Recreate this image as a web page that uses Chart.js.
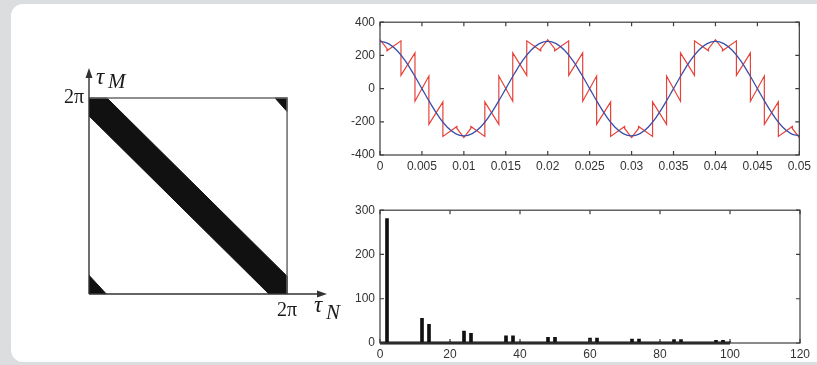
<!DOCTYPE html>
<html>
<head>
<meta charset="utf-8">
<script src="https://cdn.jsdelivr.net/npm/chart.js@4.4.1/dist/chart.umd.min.js"></script>
<style>
  html, body { margin: 0; padding: 0; }
  body { width: 817px; height: 365px; overflow: hidden; background: #dcdddf; position: relative; }
  #panel { position: absolute; left: 11px; top: 4px; width: 830px; height: 358px; background: #fff; border-radius: 12px; }
  canvas { position: absolute; }
  #mapChart { left: 40px; top: 40px; }
  #waveChart { left: 330px; top: 10px; }
  #specChart { left: 330px; top: 198px; }
</style>
</head>
<body>
<div id="panel"></div>
<canvas id="mapChart" width="320" height="290"></canvas>
<canvas id="waveChart" width="485" height="165"></canvas>
<canvas id="specChart" width="485" height="165"></canvas>
<script>
// ---- left: (tau_N, tau_M) map ----
const TWO_PI = 6.2832;
const bandX = [0, 0.57, TWO_PI, TWO_PI, 5.71, 0, 0];
const bandY = [TWO_PI, TWO_PI, 0.57, 0, 0, 5.71, TWO_PI];
const cornerLowX = [0, 0.55, 0, 0];
const cornerLowY = [0, 0, 0.6, 0];
const cornerHighX = [TWO_PI, 5.9, TWO_PI, TWO_PI];
const cornerHighY = [TWO_PI, TWO_PI, 5.85, TWO_PI];
const boxX = [0, TWO_PI, TWO_PI];
const boxY = [TWO_PI, TWO_PI, 0];
const mapTicks = [TWO_PI];

// ---- top right: waveforms ----
const blueT = [0, 0.001, 0.002, 0.003, 0.004, 0.005, 0.006, 0.007, 0.008, 0.009,
  0.010, 0.011, 0.012, 0.013, 0.014, 0.015, 0.016, 0.017, 0.018, 0.019,
  0.020, 0.021, 0.022, 0.023, 0.024, 0.025, 0.026, 0.027, 0.028, 0.029,
  0.030, 0.031, 0.032, 0.033, 0.034, 0.035, 0.036, 0.037, 0.038, 0.039,
  0.040, 0.041, 0.042, 0.043, 0.044, 0.045, 0.046, 0.047, 0.048, 0.049, 0.050];
const blueV = [285, 271, 231, 168, 88, 0, -88, -168, -231, -271,
  -285, -271, -231, -168, -88, 0, 88, 168, 231, 271,
  285, 271, 231, 168, 88, 0, -88, -168, -231, -271,
  -285, -271, -231, -168, -88, 0, 88, 168, 231, 271,
  285, 271, 231, 168, 88, 0, -88, -168, -231, -271, -285];

const redT = [0,
  0.00083, 0.00083, 0.0025, 0.0025, 0.00417, 0.00417, 0.00583, 0.00583, 0.0075, 0.0075, 0.00917, 0.00917,
  0.01,
  0.01083, 0.01083, 0.0125, 0.0125, 0.01417, 0.01417, 0.01583, 0.01583, 0.0175, 0.0175, 0.01917, 0.01917,
  0.02,
  0.02083, 0.02083, 0.0225, 0.0225, 0.02417, 0.02417, 0.02583, 0.02583, 0.0275, 0.0275, 0.02917, 0.02917,
  0.03,
  0.03083, 0.03083, 0.0325, 0.0325, 0.03417, 0.03417, 0.03583, 0.03583, 0.0375, 0.0375, 0.03917, 0.03917,
  0.04,
  0.04083, 0.04083, 0.0425, 0.0425, 0.04417, 0.04417, 0.04583, 0.04583, 0.0475, 0.0475, 0.04917, 0.04917,
  0.05];
const redV = [295,
  240, 228, 288, 80, 215, -76, 76, -215, -80, -288, -228, -240,
  -295,
  -240, -228, -288, -80, -215, 76, -76, 215, 80, 288, 228, 240,
  295,
  240, 228, 288, 80, 215, -76, 76, -215, -80, -288, -228, -240,
  -295,
  -240, -228, -288, -80, -215, 76, -76, 215, 80, 288, 228, 240,
  295,
  240, 228, 288, 80, 215, -76, 76, -215, -80, -288, -228, -240,
  -295];
const waveXTicks = [0, 0.005, 0.01, 0.015, 0.02, 0.025, 0.03, 0.035, 0.04, 0.045, 0.05];
const waveYTicks = [-400, -200, 0, 200, 400];

// ---- bottom right: spectrum ----
const harmOrder = [2, 12, 14, 24, 26, 36, 38, 48, 50, 60, 62, 72, 74, 84, 86, 96, 98];
const harmAmp = [281, 56, 42, 27, 22, 16, 16, 13, 13, 11, 11, 9, 9, 8, 8, 6, 6];
const smallOrder = [20, 40, 80, 100];
const smallAmp = [4, 4, 4, 4];
const baselineX = [0, 100];
const specXTicks = [0, 20, 40, 60, 80, 100, 120];
const specYTicks = [0, 100, 200, 300];

Chart.defaults.font.family = "'Liberation Sans', Arial, sans-serif";
Chart.defaults.color = '#333';

const pts = (xs, ys) => xs.map((x, i) => ({x: x, y: ys[i]}));
const setTicks = (list) => (scale) => { scale.ticks = list.map(v => ({value: v})); };
const fixW = (w) => (scale) => { scale.width = w; };
const fixH = (h) => (scale) => { scale.height = h; };

// MATLAB-like box with inward ticks on all sides
const matlabBox = {
    id: 'matlabBox',
    afterDatasetsDraw(chart) {
        const {ctx, chartArea: a, scales: {x, y}} = chart;
        ctx.save();
        ctx.strokeStyle = '#3c3c3c';
        ctx.lineWidth = 1.2;
        ctx.strokeRect(a.left, a.top, a.right - a.left, a.bottom - a.top);
        ctx.beginPath();
        x.ticks.forEach(t => {
            const px = x.getPixelForValue(t.value);
            ctx.moveTo(px, a.bottom); ctx.lineTo(px, a.bottom - 4);
            ctx.moveTo(px, a.top); ctx.lineTo(px, a.top + 4);
        });
        y.ticks.forEach(t => {
            const py = y.getPixelForValue(t.value);
            ctx.moveTo(a.left, py); ctx.lineTo(a.left + 4, py);
            ctx.moveTo(a.right, py); ctx.lineTo(a.right - 4, py);
        });
        ctx.stroke();
        ctx.restore();
    }
};

// axes arrows + tau labels for the map
const mapAxes = {
    id: 'mapAxes',
    afterDatasetsDraw(chart) {
        const {ctx, chartArea: a, scales: {x, y}} = chart;
        const x0 = x.getPixelForValue(0), y0 = y.getPixelForValue(0);
        ctx.save();
        ctx.strokeStyle = '#333';
        ctx.fillStyle = '#333';
        ctx.lineWidth = 1.4;
        ctx.beginPath();
        ctx.moveTo(x0, y0); ctx.lineTo(x0, a.top + 6);
        ctx.moveTo(x0, y0); ctx.lineTo(a.right - 6, y0);
        ctx.stroke();
        ctx.beginPath();
        ctx.moveTo(x0, a.top); ctx.lineTo(x0 - 3.5, a.top + 10); ctx.lineTo(x0 + 3.5, a.top + 10); ctx.closePath();
        ctx.moveTo(a.right, y0); ctx.lineTo(a.right - 10, y0 - 3.5); ctx.lineTo(a.right - 10, y0 + 3.5); ctx.closePath();
        ctx.fill();

        ctx.fillStyle = '#1a1a1a';
        ctx.textBaseline = 'alphabetic';
        ctx.textAlign = 'left';
        ctx.font = "italic 23px 'Liberation Serif'";
        ctx.fillText('\u03C4', x0 + 7, a.top + 16);
        ctx.fillText('\u03C4', a.right - 13, y0 + 18);
        ctx.font = "italic 21px 'Liberation Serif'";
        ctx.fillText('M', x0 + 19, a.top + 20);
        ctx.fillText('N', a.right - 1, y0 + 25);
        ctx.restore();
    }
};

new Chart(document.getElementById('mapChart'), {
    type: 'line',
    data: {
        datasets: [
            {data: pts(boxX, boxY), borderColor: '#6a6a6a', borderWidth: 1.5, fill: false},
            {data: pts(bandX, bandY), borderColor: '#111', backgroundColor: '#111', borderWidth: 1, fill: 'shape'},
            {data: pts(cornerLowX, cornerLowY), borderColor: '#111', backgroundColor: '#111', borderWidth: 1, fill: 'shape'},
            {data: pts(cornerHighX, cornerHighY), borderColor: '#111', backgroundColor: '#111', borderWidth: 1, fill: 'shape'}
        ]
    },
    options: {
        responsive: false,
        animation: false,
        events: [],
        layout: {padding: {top: 28, right: 33, left: 0, bottom: 0}},
        elements: {point: {radius: 0}, line: {tension: 0}},
        plugins: {legend: {display: false}, tooltip: {enabled: false}},
        scales: {
            x: {
                type: 'linear', min: 0, max: 7.55,
                grid: {display: false, drawTicks: false}, border: {display: false},
                afterBuildTicks: setTicks(mapTicks), afterFit: fixH(36),
                ticks: {padding: 5, color: '#1a1a1a', font: {family: "'Liberation Serif'", size: 20}, callback: () => '2\u03C0'}
            },
            y: {
                type: 'linear', min: 0, max: 7.245,
                grid: {display: false, drawTicks: false}, border: {display: false},
                afterBuildTicks: setTicks(mapTicks), afterFit: fixW(49),
                ticks: {padding: 5, color: '#1a1a1a', font: {family: "'Liberation Serif'", size: 20}, callback: () => '2\u03C0'}
            }
        }
    },
    plugins: [mapAxes]
});

new Chart(document.getElementById('waveChart'), {
    type: 'line',
    data: {
        datasets: [
            {data: pts(blueT, blueV), borderColor: '#3b4fa8', borderWidth: 1.3, tension: 0.4},
            {data: pts(redT, redV), borderColor: '#e6423a', borderWidth: 1.2, tension: 0}
        ]
    },
    options: {
        responsive: false,
        animation: false,
        events: [],
        layout: {padding: {top: 10, right: 15, left: 0, bottom: 0}},
        elements: {point: {radius: 0}},
        plugins: {legend: {display: false}, tooltip: {enabled: false}},
        scales: {
            x: {
                type: 'linear', min: 0, max: 0.05,
                grid: {display: false, drawTicks: false}, border: {display: false},
                afterBuildTicks: setTicks(waveXTicks), afterFit: fixH(20),
                ticks: {padding: 4, autoSkip: false, maxRotation: 0, font: {size: 12},
                    callback: (v) => String(parseFloat(Number(v).toFixed(4)))}
            },
            y: {
                type: 'linear', min: -400, max: 400,
                grid: {display: false, drawTicks: false}, border: {display: false},
                afterBuildTicks: setTicks(waveYTicks), afterFit: fixW(50),
                ticks: {padding: 5, font: {size: 12}}
            }
        }
    },
    plugins: [matlabBox]
});

new Chart(document.getElementById('specChart'), {
    type: 'bar',
    data: {
        datasets: [
            {type: 'line', data: pts(baselineX, [0, 0]), borderColor: '#111', borderWidth: 3, pointRadius: 0, clip: false},
            {data: pts(harmOrder, harmAmp), backgroundColor: '#111', barThickness: 3, grouped: false},
            {data: pts(smallOrder, smallAmp), backgroundColor: '#333', barThickness: 1, grouped: false}
        ]
    },
    options: {
        responsive: false,
        animation: false,
        events: [],
        layout: {padding: {top: 10, right: 15, left: 0, bottom: 0}},
        plugins: {legend: {display: false}, tooltip: {enabled: false}},
        scales: {
            x: {
                type: 'linear', min: 0, max: 120, offset: false,
                grid: {display: false, drawTicks: false, offset: false}, border: {display: false},
                afterBuildTicks: setTicks(specXTicks), afterFit: fixH(20),
                ticks: {padding: 4, autoSkip: false, maxRotation: 0, font: {size: 12}}
            },
            y: {
                type: 'linear', min: 0, max: 300,
                grid: {display: false, drawTicks: false}, border: {display: false},
                afterBuildTicks: setTicks(specYTicks), afterFit: fixW(50),
                ticks: {padding: 5, font: {size: 12}}
            }
        }
    },
    plugins: [matlabBox]
});
</script>
</body>
</html>
